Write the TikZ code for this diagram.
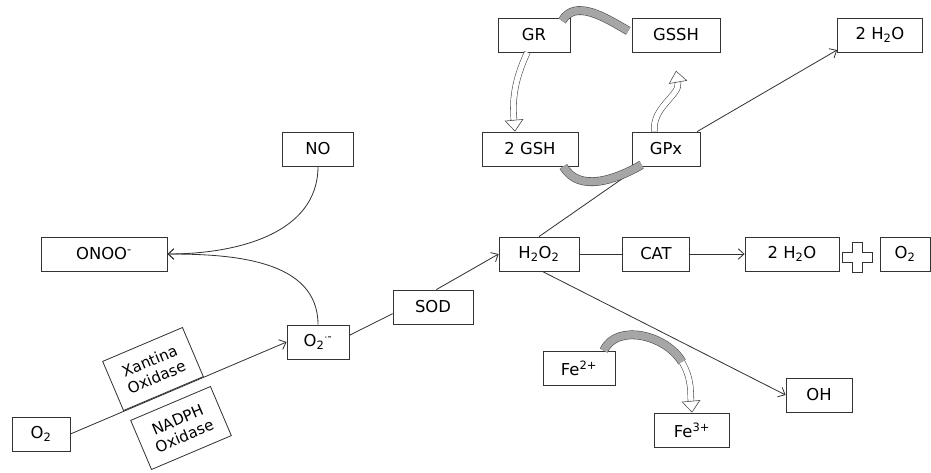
\documentclass[tikz,border=0pt]{standalone}
\usepackage{fontspec}
\setmainfont{DejaVu Sans}
\usetikzlibrary{arrows.meta, positioning, calc}

\begin{document}
\begin{tikzpicture}[x=0.03cm, y=0.03cm,
    species/.style={rectangle, draw=black!80, fill=white, line width=0.7pt, minimum height=1.02cm, inner sep=2pt, font=\fontsize{14}{16}\selectfont},
    enzyme/.style={species, rotate=23, align=center, minimum width=2.6cm, minimum height=1.6cm, inner sep=1pt, font=\fontsize{13}{15}\selectfont},
    arrow/.style={-{Straight Barb[length=5pt,width=9pt]}, line width=0.7pt, black!80},
    link/.style={line width=0.7pt, black!80},
    greyband/.style={line width=0.5pt, draw=black!70, double=black!35, double distance=6.5pt},
    hollow/.style={line width=0.5pt, draw=black!70, double=white, double distance=4.5pt, -{Triangle[open, length=10pt, width=16pt]}}]

    \useasboundingbox (0,0) rectangle (931,-472);

    % Nodes
    \node[species, minimum width=2.16cm] (GR) at (534,-35) {GR};
    \node[species, minimum width=2.64cm] (GSSH) at (676,-35) {GSSH};
    \node[species, minimum width=2.55cm] (waterA) at (880,-35) {2 H\textsubscript{2}O};
    \node[species, minimum width=2.13cm] (NO) at (318,-149) {NO};
    \node[species, minimum width=2.88cm] (GSH) at (530,-149) {2 GSH};
    \node[species, minimum width=2.04cm] (GPx) at (666,-149) {GPx};
    \node[species, minimum width=3.78cm] (ONOO) at (104,-254) {ONOO\textsuperscript{-}};
    \node[species, minimum width=2.4cm] (H2O2) at (539,-254) {H\textsubscript{2}O\textsubscript{2}};
    \node[species, minimum width=2.01cm] (CAT) at (656,-254) {CAT};
    \node[species, minimum width=2.82cm] (waterB) at (792,-254) {2 H\textsubscript{2}O};
    \node[species, minimum width=1.5cm] (O2out) at (905,-254) {O\textsubscript{2}};
    \node[species, minimum width=2.4cm] (SOD) at (433,-307) {SOD};
    \node[species, minimum width=1.86cm] (O2rad) at (318,-342) {O\textsubscript{2}\textsuperscript{$\cdot$-}};
    \node[species, minimum width=1.74cm] (O2in) at (41,-434) {O\textsubscript{2}};
    \node[enzyme] (XO) at (153,-369) {Xantina\\Oxidase};
    \node[enzyme] (NOX) at (181,-428) {NADPH\\Oxidase};
    \node[species, minimum width=2.16cm] (Fe2) at (579,-368) {Fe\textsuperscript{2+}};
    \node[species, minimum width=2.25cm] (Fe3) at (692,-430) {Fe\textsuperscript{3+}};
    \node[species, minimum width=1.98cm] (OH) at (819,-395) {OH};

    % Arrows
    \draw[arrow] (O2in.east) -- (O2rad.west);
    \draw[arrow] (O2rad.north) to[out=90, in=0] (ONOO.east);
    \draw[arrow] (NO.south) to[out=-90, in=0] (ONOO.east);
    \draw[link] ([yshift=0.2cm]O2rad.east) -- ([yshift=-0.2cm]SOD.west);
    \draw[arrow] ([xshift=0.1cm]SOD.north) -- (H2O2.west);
    \draw[link] (H2O2.north) -- ([xshift=0.25cm]GPx.south west);
    \draw[arrow] ([xshift=-0.1cm]GPx.north east) -- ([yshift=-0.45cm]waterA.west);
    \draw[link] (H2O2.east) -- (CAT.west);
    \draw[arrow] (CAT.east) -- (waterB.west);
    \draw[arrow] ([xshift=0.1cm]H2O2.south) -- (OH.west);

    % Glutathione cycle
    \draw[greyband] ([xshift=-0.25cm, yshift=-0.1cm]GR.north east) to[out=60, in=150] ([xshift=-0.1cm, yshift=-0.4cm]GSSH.north west);
    \draw[greyband] ([xshift=-0.45cm]GSH.south east) to[out=-60, in=-150] ([xshift=0.3cm, yshift=0.05cm]GPx.south west);
    \draw[hollow] ([xshift=-0.2cm]GR.south) to[out=-115, in=95] ([xshift=-0.45cm]GSH.north);
    \draw[hollow] ([xshift=-0.35cm]GPx.north) to[out=95, in=-80] ([yshift=-0.55cm]GSSH.south);

    % Fenton
    \coordinate (feturn) at (682,-362);
    \draw[greyband] ([xshift=-0.35cm]Fe2.north east) to[out=65, in=120] (feturn);
    \draw[hollow] (feturn) to[out=-60, in=95] (Fe3.north);

    % plus sign
    \coordinate (plus) at (857,-257);
    \draw[link, fill=white] ($(plus)+(-5,-15)$) -- ++(10,0) -- ++(0,10) -- ++(10,0) -- ++(0,10) -- ++(-10,0) -- ++(0,10) -- ++(-10,0) -- ++(0,-10) -- ++(-10,0) -- ++(0,-10) -- ++(10,0) -- cycle;

\end{tikzpicture}
\end{document}
